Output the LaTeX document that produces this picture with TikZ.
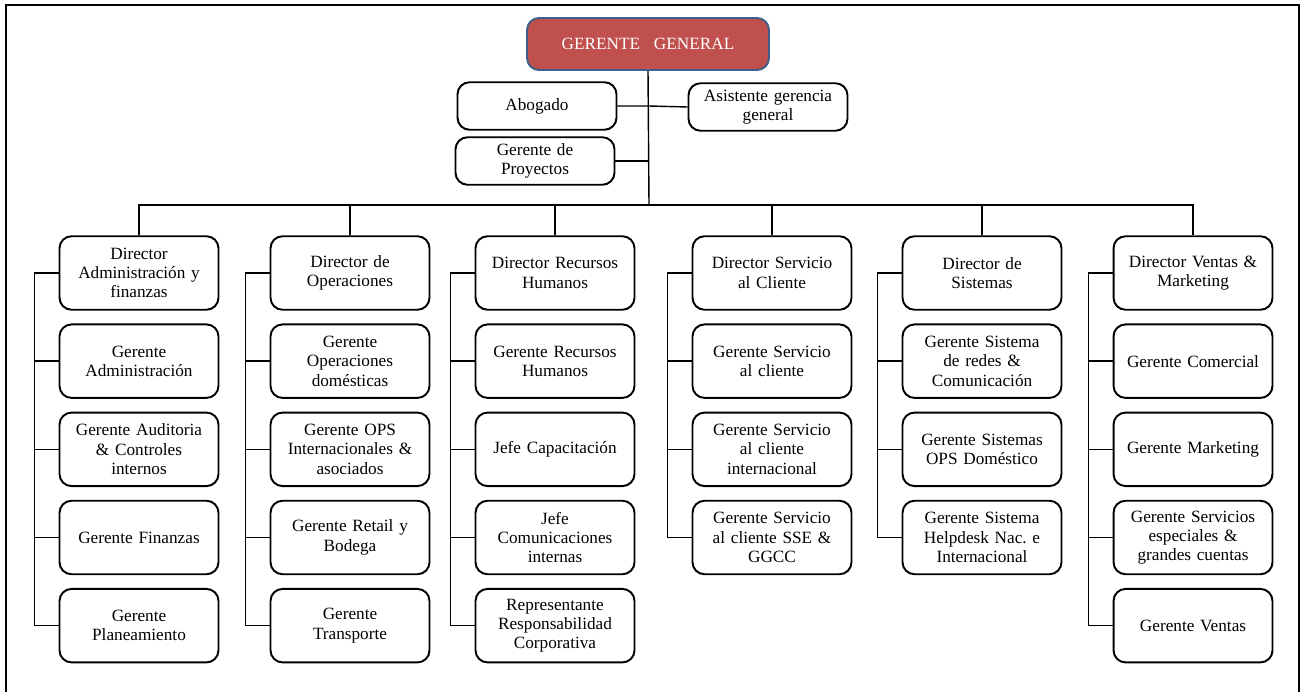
\documentclass[tikz,border=0pt]{standalone}
\usepackage{fontspec}
\setmainfont{Liberation Serif}
\usetikzlibrary{positioning}

\definecolor{ggfill}{HTML}{C0504D}
\definecolor{ggline}{HTML}{3F5F8A}

\begin{document}
\begin{tikzpicture}[x=0.02cm, y=-0.02cm,
   box/.style={draw=black, line width=1.1pt, rounded corners=0.24cm,
     minimum width=3.18cm, minimum height=1.47cm, text width=3.0cm,
     align=center, inner sep=1pt, font=\fontsize{9.8}{11}\selectfont},
   small/.style={box, minimum height=0.95cm},
   top/.style={box, fill=ggfill, draw=ggline, text=white,
     minimum width=4.84cm, minimum height=1.04cm, text width=4.6cm},
   link/.style={draw=black, line width=0.8pt},
   node distance=0.255cm]

 \useasboundingbox (0,0) rectangle (1304,692);
 \draw[line width=1.2pt] (6,692) -- (6,5) -- (1299,5) -- (1299,692);

 %gerencia general and staff
 \node[top] (gg) at (648,44) {GERENTE\hspace{0.8em}GENERAL};
 \node[small] (abogado)   at (537,106) {Abogado};
 \node[small] (asistente) at (768,107) {Asistente gerencia\\general};
 \node[small] (proyectos) at (535,161) {Gerente de\\Proyectos};
 \coordinate (bus) at (649,205);

 %directores
 \node[box] (dir_adm) at (139,273)  {Director\\Administración y\\finanzas};
 \node[box] (dir_ops) at (350,273)  {Director de\\Operaciones};
 \node[box] (dir_rh)  at (555,273)  {Director Recursos\\Humanos};
 \node[box] (dir_sc)  at (772,273)  {Director Servicio\\al Cliente};
 \node[box] (dir_sis) at (982,273)  {Director de\\Sistemas};
 \node[box] (dir_vm)  at (1193,273) {Director Ventas \&\\Marketing};

 %gerentes below each director
 \node[box, below=of dir_adm] (adm_1) {Gerente\\Administración};
 \node[box, below=of adm_1]   (adm_2) {Gerente Auditoria\\\& Controles\\internos};
 \node[box, below=of adm_2]   (adm_3) {Gerente Finanzas};
 \node[box, below=of adm_3]   (adm_4) {Gerente\\Planeamiento};

 \node[box, below=of dir_ops] (ops_1) {Gerente\\Operaciones\\domésticas};
 \node[box, below=of ops_1]   (ops_2) {Gerente OPS\\Internacionales \&\\asociados};
 \node[box, below=of ops_2]   (ops_3) {Gerente Retail y\\Bodega};
 \node[box, below=of ops_3]   (ops_4) {Gerente\\Transporte};

 \node[box, below=of dir_rh] (rh_1) {Gerente Recursos\\Humanos};
 \node[box, below=of rh_1]   (rh_2) {Jefe Capacitación};
 \node[box, below=of rh_2]   (rh_3) {Jefe\\Comunicaciones\\internas};
 \node[box, below=of rh_3]   (rh_4) {Representante\\Responsabilidad\\Corporativa};

 \node[box, below=of dir_sc] (sc_1) {Gerente Servicio\\al cliente};
 \node[box, below=of sc_1]   (sc_2) {Gerente Servicio\\al cliente\\internacional};
 \node[box, below=of sc_2]   (sc_3) {Gerente Servicio\\al cliente SSE \&\\GGCC};

 \node[box, below=of dir_sis] (sis_1) {Gerente Sistema\\de redes \&\\Comunicación};
 \node[box, below=of sis_1]   (sis_2) {Gerente Sistemas\\OPS Doméstico};
 \node[box, below=of sis_2]   (sis_3) {Gerente Sistema\\Helpdesk Nac.\ e\\Internacional};

 \node[box, below=of dir_vm] (vm_1) {Gerente Comercial};
 \node[box, below=of vm_1]   (vm_2) {Gerente Marketing};
 \node[box, below=of vm_2]   (vm_3) {Gerente Servicios\\especiales \&\\grandes cuentas};
 \node[box, below=of vm_3]   (vm_4) {Gerente Ventas};

 %trunk and staff links
 \draw[link] (gg.south) -- (bus);
 \draw[link] (abogado.east) -- (abogado.east -| bus) -- (asistente.west);
 \draw[link] (proyectos.east) -- (proyectos.east -| bus);

 %bus to directores
 \draw[link] (dir_adm.north) -- (dir_adm.north |- bus) -- (dir_vm.north |- bus) -- (dir_vm.north);
 \foreach \dn in {ops, rh, sc, sis}
   \draw[link] (dir_\dn.north) -- (dir_\dn.north |- bus);

 %side spines
 \foreach \dn/\nn in {adm/4, ops/4, rh/4, sc/3, sis/3, vm/4} {
   \draw[link] (dir_\dn.west) -- ++(-24,0) coordinate (sp_\dn) |- (\dn_\nn.west);
   \foreach \i in {1,...,\nn}
     \draw[link] (\dn_\i.west) -- (\dn_\i.west -| sp_\dn);
 }

\end{tikzpicture}
\end{document}
